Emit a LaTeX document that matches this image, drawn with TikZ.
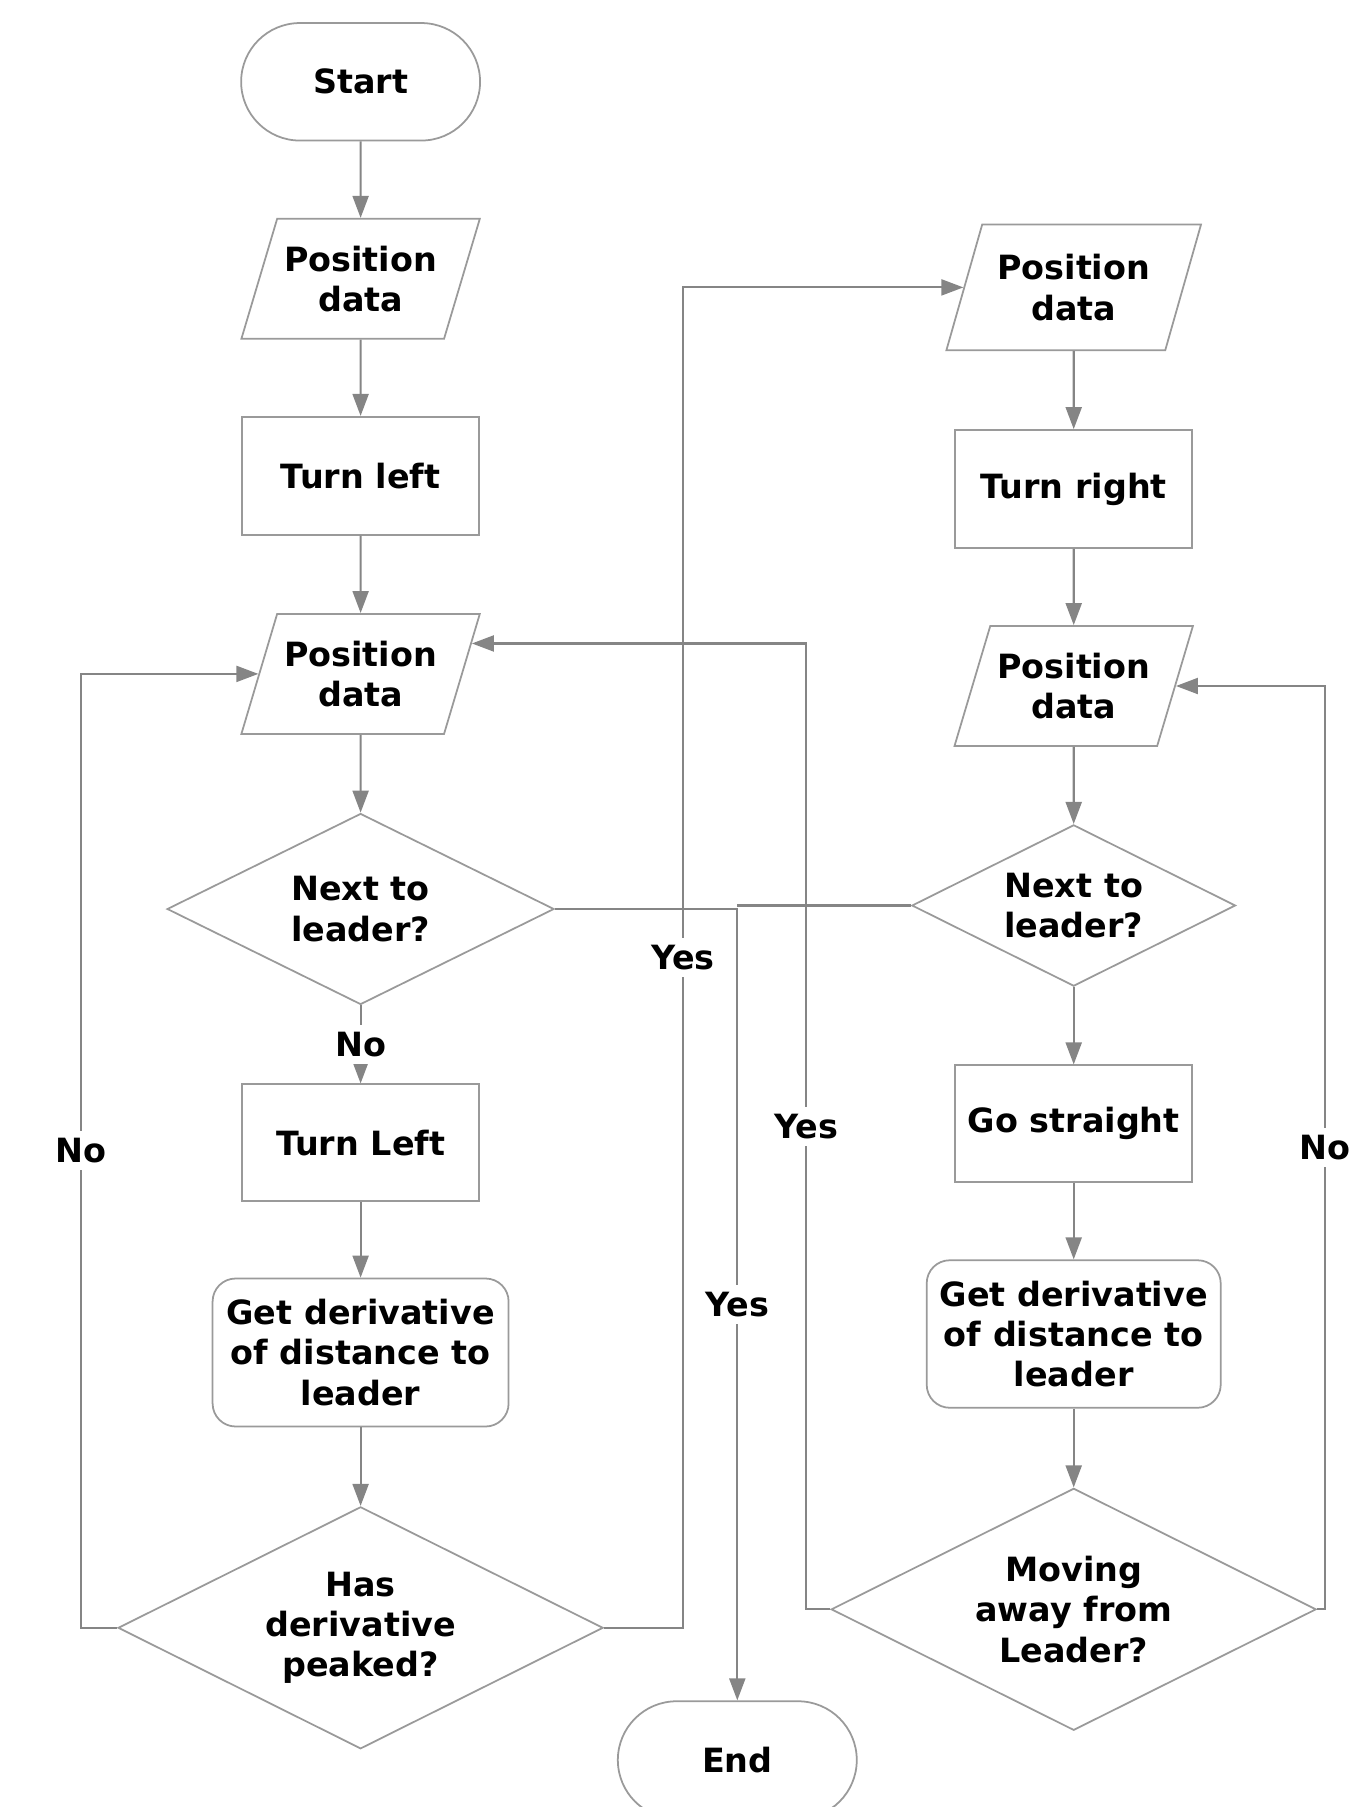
\documentclass[tikz,border=0pt]{standalone}
\usepackage{fontspec}
\setmainfont{DejaVu Sans}
\usetikzlibrary{calc, positioning}
\usetikzlibrary{shapes.geometric, shapes.misc, arrows.meta}
\definecolor{edgegray}{HTML}{9A9A9A}
\definecolor{linegray}{HTML}{858585}
\tikzset{
  font=\bfseries\fontsize{9.5}{11.5}\selectfont,
  % Set arrowhead
  >={Triangle[length=0.22cm, width=0.16cm]},
  % General node
  box/.style={draw=edgegray, line width=0.5pt, fill=white, align=center,
    inner sep=2pt, minimum width=2.37cm, minimum height=1.18cm},
  % Start and end
  term/.style={box, shape=rounded rectangle, minimum width=2.53cm,
    minimum height=1.175cm},
  % Input node
  data/.style={box, shape=trapezium, trapezium left angle=66,
    trapezium right angle=114, trapezium stretches body,
    minimum height=1.2cm},
  % Process node
  proc/.style={box, shape=rectangle},
  % Rounded process node
  calc/.style={box, shape=rectangle, rounded corners=0.23cm,
    minimum width=2.96cm, minimum height=1.48cm},
  % Decision node
  dec/.style={box, shape=diamond, aspect=2},
  % Arrows
  flow/.style={->, draw=linegray, line width=0.6pt},
  line/.style={draw=linegray, line width=0.6pt},
  % Yes / No labels
  lbl/.style={fill=white, inner sep=2pt},
}
\begin{document}
\begin{tikzpicture}
  \useasboundingbox (0,0) rectangle (13.48,-18.07);

  % left column
  \node[term] (start) at (3.606,-0.818) {Start};
  \node[data, minimum width=2.37cm] (pdA) at (3.606,-2.788) {Position\\data};
  \node[proc] (left) at (3.606,-4.758) {Turn left};
  \node[data, minimum width=2.37cm] (pdB) at (3.606,-6.739) {Position\\data};
  \node[dec, minimum width=3.87cm, minimum height=1.91cm] (nextA) at (3.606,-9.09) {Next to\\leader?};
  \node[proc, minimum height=1.17cm] (leftB) at (3.606,-11.428) {Turn Left};
  \node[calc] (derA) at (3.606,-13.525) {Get derivative\\of distance to\\leader};
  \node[dec, minimum width=4.85cm, minimum height=2.42cm] (peak) at (3.606,-16.278) {Has\\derivative\\peaked?};
  \node[term] (end) at (7.373,-17.60) {End};

  % right column
  \node[data, minimum width=2.546cm, minimum height=1.256cm] (pdC) at (10.737,-2.874) {Position\\data};
  \node[proc] (right) at (10.737,-4.89) {Turn right};
  \node[data, minimum width=2.37cm] (pdD) at (10.737,-6.86) {Position\\data};
  \node[dec, minimum width=3.237cm, minimum height=1.613cm] (nextB) at (10.737,-9.055) {Next to\\leader?};
  \node[proc, minimum height=1.17cm] (straight) at (10.737,-11.238) {Go straight};
  \node[calc, minimum width=2.94cm, minimum height=1.475cm] (derB) at (10.737,-13.34) {Get derivative\\of distance to\\leader};
  \node[dec, minimum width=4.85cm, minimum height=2.42cm] (away) at (10.737,-16.093) {Moving\\away from\\Leader?};

  % loop columns
  \coordinate (loopA) at (0.806,0);
  \coordinate (loopB) at (6.83,0);
  \coordinate (loopC) at (8.064,0);
  \coordinate (loopD) at (13.248,0);
  \coordinate (pdBin) at ($(pdB.top right corner)!0.25!(pdB.bottom right corner)$);

  % straight flow
  \draw[flow] (start) -- (pdA);
  \draw[flow] (pdA) -- (left);
  \draw[flow] (left) -- (pdB);
  \draw[flow] (pdB) -- (nextA);
  \draw[flow] (nextA) -- node[lbl] {No} (leftB);
  \draw[flow] (leftB) -- (derA);
  \draw[flow] (derA) -- (peak);
  \draw[flow] (pdC) -- (right);
  \draw[flow] (right) -- (pdD);
  \draw[flow] (pdD) -- (nextB);
  \draw[flow] (nextB) -- (straight);
  \draw[flow] (straight) -- (derB);
  \draw[flow] (derB) -- (away);

  % loops
  \draw[flow] (peak.west) -- (loopA |- peak.west)
    -- node[lbl] {No} (loopA |- pdB.west) -- (pdB.west);
  \draw[flow] (peak.east) -- (loopB |- peak.east)
    -- node[lbl] {Yes} (loopB |- pdC.west) -- (pdC.west);
  \draw[flow] (away.west) -- (loopC |- away.west)
    -- node[lbl] {Yes} (loopC |- pdBin) -- (pdBin);
  \draw[flow] (away.east) -- (loopD |- away.east)
    -- node[lbl] {No} (loopD |- pdD.east) -- (pdD.east);
  \draw[flow] (nextA.east) -| node[lbl, pos=0.75] {Yes} (end.north);
  \draw[line] (nextB.west) -- (nextB.west -| end.north);
\end{tikzpicture}
\end{document}
